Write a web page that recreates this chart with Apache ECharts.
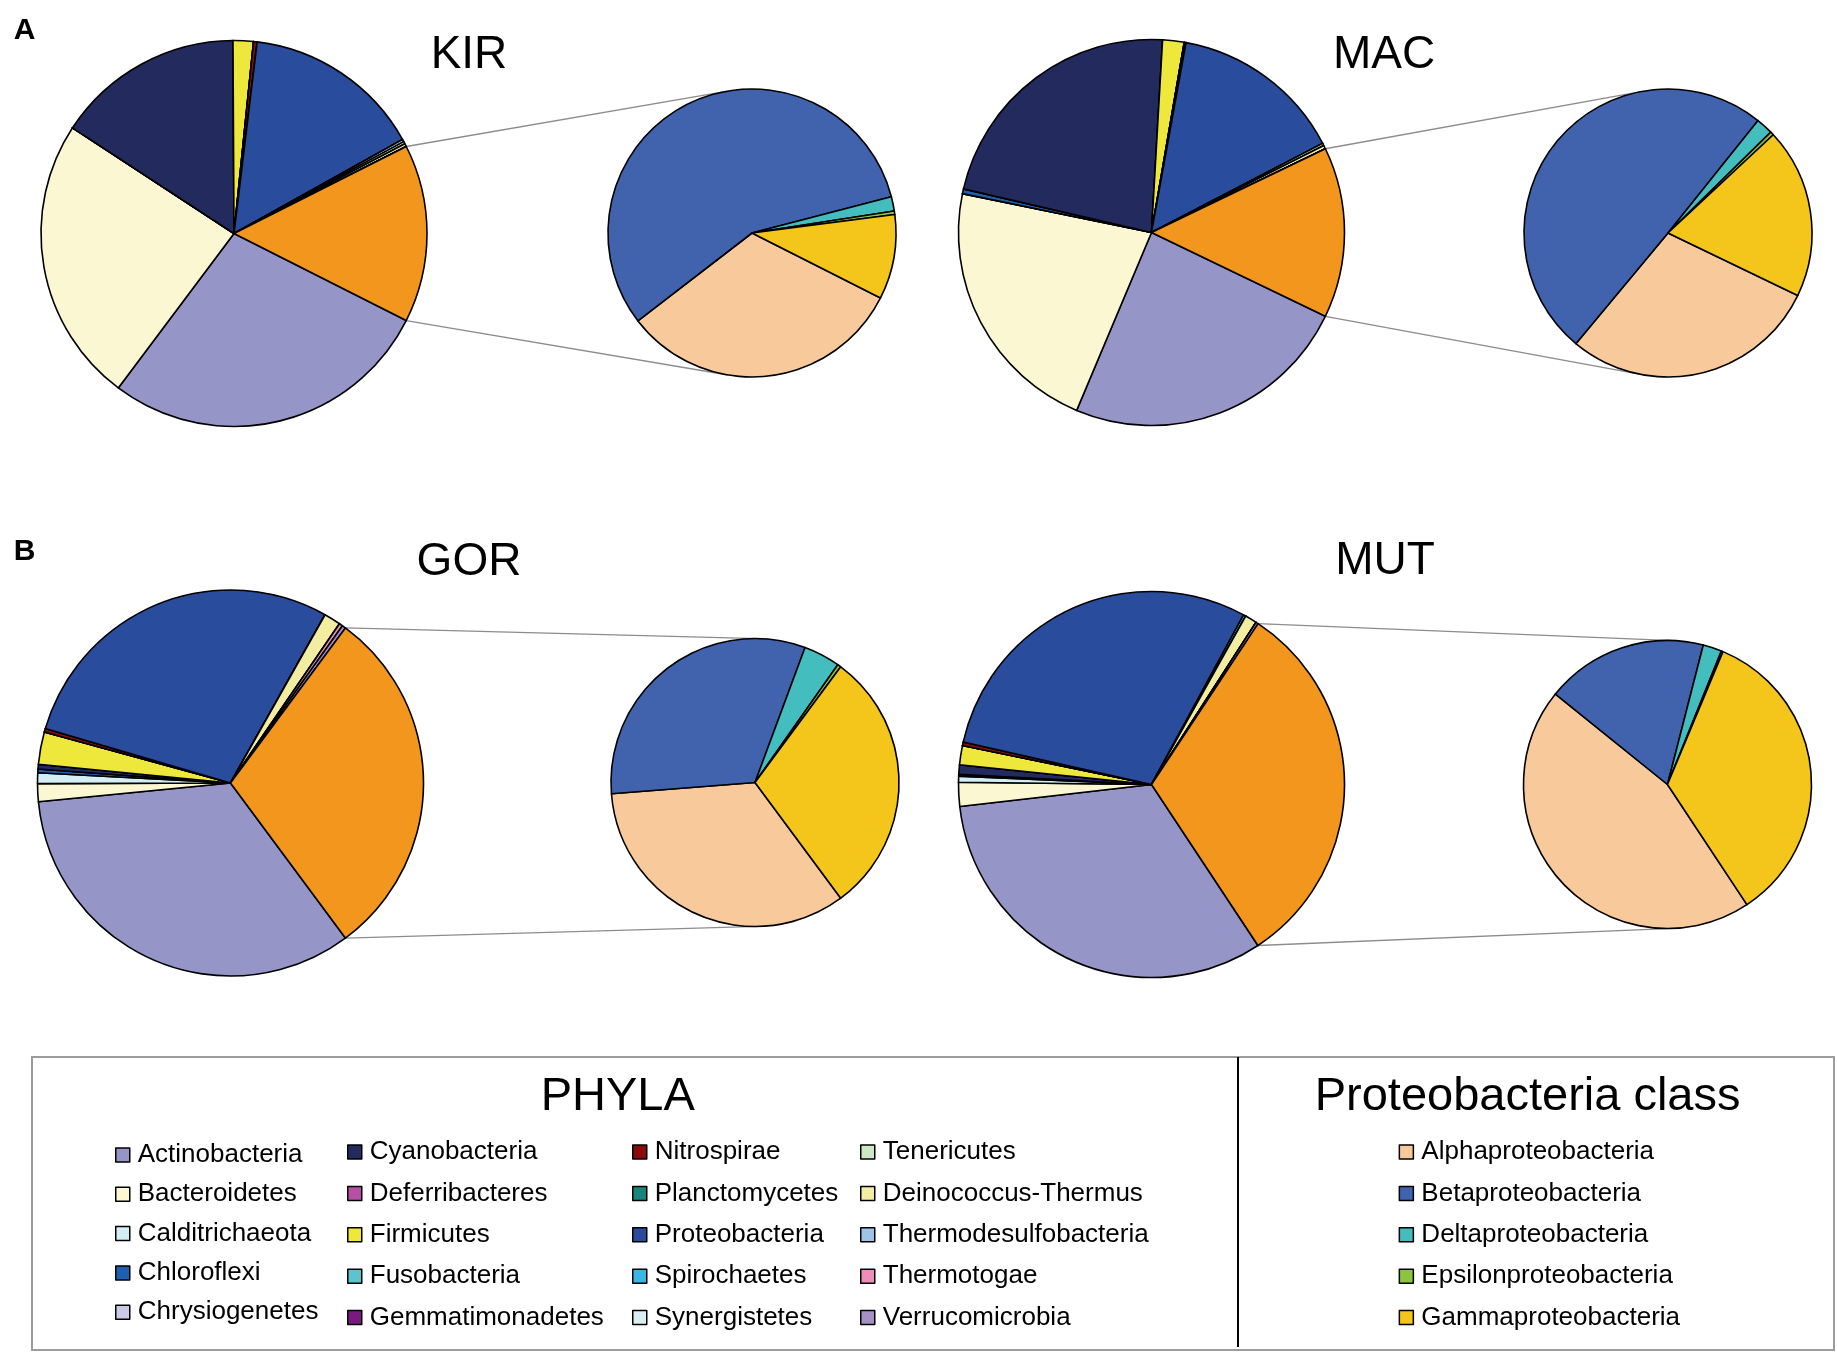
<!DOCTYPE html>
<html>
<head>
<meta charset="utf-8">
<script src="https://cdn.jsdelivr.net/npm/echarts@6/dist/echarts.min.js"></script>
<style>
html,body{margin:0;padding:0;background:#fff;}
#chart{width:1837px;height:1354px;}
</style>
</head>
<body>
<div id="chart"></div>
<script>
// ---------- DATA ----------
const phyla = ['Actinobacteria','Bacteroidetes','Calditrichaeota','Chloroflexi','Chrysiogenetes',
  'Cyanobacteria','Deferribacteres','Firmicutes','Fusobacteria','Gemmatimonadetes',
  'Nitrospirae','Planctomycetes','Proteobacteria','Spirochaetes','Synergistetes',
  'Tenericutes','Deinococcus-Thermus','Thermodesulfobacteria','Thermotogae','Verrucomicrobia'];
const phylaColors = ['#9595C7','#FBF7D3','#D3EEF4','#1F5FAF','#C9C9E8',
  '#232B5E','#B74FA6','#EEE83C','#5DC3CF','#7A1A7E',
  '#8B0A0A','#17857A','#2A4C9D','#39B6E5','#D9EEF2',
  '#CDE8C4','#F2EDA0','#9EC3E8','#EE8DB8','#A690C6'];
const compositeName = 'Proteobacteria (classes)';
const compositeColor = '#F3961D';
const classes = ['Alphaproteobacteria','Betaproteobacteria','Deltaproteobacteria','Epsilonproteobacteria','Gammaproteobacteria'];
const classColors = ['#F8C99B','#4163AE','#43BDBD','#8DC43F','#F4C51B'];
const sites = ['KIR','MAC','GOR','MUT'];
// phyla relative abundance (%) per site, in the order of `phyla`
const kirPhyla = [27.8,24.0,0,0,0, 15.7,0,1.7,0,0, 0.3,0,15.0,0,0.2, 0.2,0.25,0,0,0];
const macPhyla = [24.2,21.9,0,0.4,0, 22.3,0,1.8,0,0, 0.15,0,14.5,0,0, 0.2,0.3,0,0,0];
const gorPhyla = [33.6,1.5,0.9,0.3,0, 0.4,0,2.7,0,0, 0.3,0,28.6,0,0, 0,1.4,0,0.3,0.3];
const mutPhyla = [32.5,2.0,0.5,0.15,0, 0.8,0,1.6,0,0, 0.3,0,29.4,0.2,0, 0,1.0,0,0,0.2];
// composite (exploded) slice value per site
const compositeValues = [14.9, 14.3, 29.7, 31.4];
// Proteobacteria class breakdown (%) per site, in the order of `classes`
const kirClasses = [32.1,56.4,1.6,0.4,9.5];
const macClasses = [28.9,49.7,1.9,0.4,19.1];
const gorClasses = [33.9,31.9,4.1,0.4,29.7];
const mutClasses = [45.1,18.2,2.1,0.2,34.4];
const panelLabels = ['A','B'];
const legendTitles = ['PHYLA','Proteobacteria class'];

// ---------- LAYOUT / STYLE ----------
const FONT = '"Liberation Sans", Arial, Helvetica, sans-serif';
const phylaBySite = [kirPhyla, macPhyla, gorPhyla, mutPhyla];
const classesBySite = [kirClasses, macClasses, gorClasses, mutClasses];
const bigCenters = [[234,233.5],[1151.5,232.5],[230.5,783],[1151.5,784.5]];
const smallCenters = [[752,233],[1668,233],[755,782.5],[1667.5,784.5]];
const bigR = 193, smallR = 144;
const titlePos = [[469,55.7],[1384,55.7],[469,562.5],[1385,561.5]];

const chart = echarts.init(document.getElementById('chart'), null, {renderer:'canvas'});

const commonPie = {
  type:'pie',
  clockwise:true,
  avoidLabelOverlap:false,
  label:{show:false},
  labelLine:{show:false},
  emphasis:{disabled:true, scale:false},
  silent:true,
  itemStyle:{borderColor:'#000', borderWidth:1.6}
};

const series = [];
sites.forEach((s, i) => {
  const start = -compositeValues[i] * 1.8; // composite slice centred toward the secondary pie
  const bigData = phyla.map((n, k) => ({name:n, value:phylaBySite[i][k], itemStyle:{color:phylaColors[k]}}));
  bigData.push({name:compositeName, value:compositeValues[i], itemStyle:{color:compositeColor}});
  series.push(Object.assign({}, commonPie, {
    name:s, center:bigCenters[i], radius:bigR, startAngle:start, data:bigData
  }));
  series.push(Object.assign({}, commonPie, {
    name:s + ' Proteobacteria', center:smallCenters[i], radius:smallR, startAngle:start,
    data:classes.map((n, k) => ({name:n, value:classesBySite[i][k], itemStyle:{color:classColors[k]}}))
  }));
});

const legendCommon = {
  orient:'vertical', padding:0, icon:'rect', itemWidth:14, itemHeight:14,
  selectedMode:false,
  itemStyle:{borderColor:'#000', borderWidth:1.5},
  textStyle:{fontSize:26, fontFamily:FONT, color:'#000', lineHeight:30, padding:[0,0,0,3]}
};
const legends = [
  Object.assign({}, legendCommon, {data:phyla.slice(0,5), left:115, top:1140, itemGap:9.3}),
  Object.assign({}, legendCommon, {data:phyla.slice(5,10), left:347, top:1137, itemGap:11.4}),
  Object.assign({}, legendCommon, {data:phyla.slice(10,15), left:632, top:1137, itemGap:11.4}),
  Object.assign({}, legendCommon, {data:phyla.slice(15,20), left:860, top:1137, itemGap:11.4}),
  Object.assign({}, legendCommon, {data:classes, left:1398.6, top:1137, itemGap:11.4})
];

const graphics = [];
sites.forEach((s, i) => {
  graphics.push({id:'t'+i, type:'text', z:10, style:{text:s, x:titlePos[i][0], y:titlePos[i][1],
    textAlign:'center', textVerticalAlign:'middle', font:'46px ' + FONT, fill:'#000'}});
});
graphics.push({id:'pA', type:'text', z:10, style:{text:panelLabels[0], x:24.6, y:30.5, textAlign:'center', textVerticalAlign:'middle', font:'bold 30px ' + FONT, fill:'#000'}});
graphics.push({id:'pB', type:'text', z:10, style:{text:panelLabels[1], x:24.6, y:551.5, textAlign:'center', textVerticalAlign:'middle', font:'bold 30px ' + FONT, fill:'#000'}});
graphics.push({id:'box', type:'rect', z:0, shape:{x:32, y:1057, width:1802, height:293}, style:{fill:'none', stroke:'#9c9c9c', lineWidth:2}});
graphics.push({id:'div', type:'line', z:0, shape:{x1:1238, y1:1057, x2:1238, y2:1347}, style:{stroke:'#000', lineWidth:2}});
graphics.push({id:'lt1', type:'text', z:10, style:{text:legendTitles[0], x:617.7, y:1097, textAlign:'center', textVerticalAlign:'middle', font:'47px ' + FONT, fill:'#000'}});
graphics.push({id:'lt2', type:'text', z:10, style:{text:legendTitles[1], x:1527.6, y:1097, textAlign:'center', textVerticalAlign:'middle', font:'47px ' + FONT, fill:'#000'}});

chart.setOption({
  animation:false,
  backgroundColor:'#fff',
  legend:legends,
  series:series,
  graphic:{elements:graphics}
});

// ---------- connector lines from the composite slice to the secondary pie ----------
function tangentPoint(P, C, R, upper){
  const vx = P[0]-C[0], vy = P[1]-C[1];
  const d = Math.sqrt(vx*vx+vy*vy);
  const phi = Math.atan2(vy, vx);
  const a = Math.acos(Math.min(1, R/d));
  const t1 = [C[0]+R*Math.cos(phi+a), C[1]+R*Math.sin(phi+a)];
  const t2 = [C[0]+R*Math.cos(phi-a), C[1]+R*Math.sin(phi-a)];
  if (upper) return t1[1] < t2[1] ? t1 : t2;
  return t1[1] > t2[1] ? t1 : t2;
}
try {
  const model = chart.getModel();
  const lines = [];
  sites.forEach((s, i) => {
    const bd = model.getSeriesByIndex(2*i).getData();
    const sd = model.getSeriesByIndex(2*i+1).getData();
    const L = bd.getItemLayout(bd.count()-1);
    const S = sd.getItemLayout(0);
    const p1 = [L.cx + L.r*Math.cos(L.startAngle), L.cy + L.r*Math.sin(L.startAngle)];
    const p2 = [L.cx + L.r*Math.cos(L.endAngle), L.cy + L.r*Math.sin(L.endAngle)];
    const up = p1[1] < p2[1] ? p1 : p2;
    const lo = p1[1] < p2[1] ? p2 : p1;
    const C = [S.cx, S.cy];
    const tu = tangentPoint(up, C, S.r, true);
    const tl = tangentPoint(lo, C, S.r, false);
    lines.push({id:'cu'+i, type:'line', z:1, shape:{x1:up[0], y1:up[1], x2:tu[0], y2:tu[1]}, style:{stroke:'#8c8c8c', lineWidth:1.3}});
    lines.push({id:'cl'+i, type:'line', z:1, shape:{x1:lo[0], y1:lo[1], x2:tl[0], y2:tl[1]}, style:{stroke:'#8c8c8c', lineWidth:1.3}});
  });
  chart.setOption({graphic:{elements:lines}});
} catch (e) { console.error(e); }
</script>
</body>
</html>
